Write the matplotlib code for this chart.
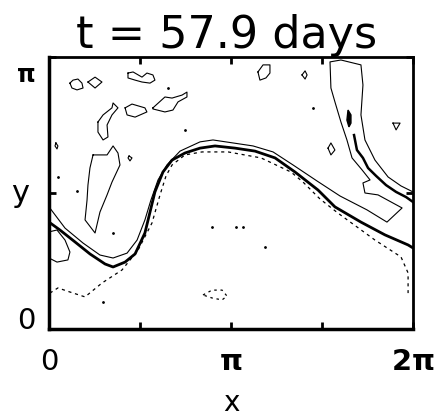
import numpy as np
import matplotlib
matplotlib.use("Agg")
import matplotlib.pyplot as plt
import matplotlib.transforms as mtransforms

PI = np.pi

# ---- data (x and y in units of pi) ----
title_text = "t = 57.9 days"
xtick_vals = [0, 0.5, 1.0, 1.5, 2.0]
xtick_labels = ["0", "", r"$\mathbf{\pi}$", "", r"$\mathbf{2\pi}$"]
ytick_vals = [0, 0.5, 1.0]
ytick_labels = ["0", "", r"$\mathbf{\pi}$"]

# main (thick) front contour
front_x = [0.0, 0.060, 0.143, 0.225, 0.308, 0.352, 0.418, 0.473, 0.527, 0.555, 0.582, 0.626,
           0.676, 0.747, 0.830, 0.912, 1.022, 1.132, 1.242, 1.352, 1.478, 1.571, 1.714, 1.846,
           1.973, 2.0]
front_y = [0.393, 0.364, 0.320, 0.276, 0.239, 0.228, 0.246, 0.276, 0.353, 0.430, 0.504, 0.577,
           0.621, 0.647, 0.665, 0.673, 0.665, 0.654, 0.629, 0.577, 0.511, 0.449, 0.393, 0.346,
           0.309, 0.298]

# thin contour north of the front, joining the eastern filament
upper_x = [0.0, 0.088, 0.187, 0.280, 0.352, 0.429, 0.484, 0.527, 0.560, 0.599, 0.648, 0.720,
           0.830, 0.901, 1.011, 1.121, 1.231, 1.341, 1.473, 1.599, 1.747, 1.857, 1.940, 1.808,
           1.736, 1.725, 1.764, 1.720, 1.665, 1.637, 1.604, 1.571, 1.549, 1.544, 1.604, 1.714,
           1.725, 1.714, 1.736, 1.791, 1.863, 1.934, 2.0]
upper_y = [0.449, 0.371, 0.316, 0.272, 0.261, 0.279, 0.327, 0.401, 0.474, 0.548, 0.603, 0.654,
           0.688, 0.695, 0.684, 0.673, 0.651, 0.603, 0.544, 0.489, 0.438, 0.393, 0.445, 0.493,
           0.500, 0.537, 0.548, 0.585, 0.629, 0.695, 0.761, 0.835, 0.886, 0.982, 0.989, 0.971,
           0.897, 0.787, 0.695, 0.621, 0.559, 0.526, 0.504]

# dashed contour south of the front
lower_x = [0.005, 0.049, 0.115, 0.198, 0.291, 0.401, 0.489, 0.566, 0.610, 0.643, 0.676, 0.747,
           0.841, 0.984, 1.165, 1.330, 1.396, 1.489, 1.588, 1.791, 1.934, 1.973, 1.973]
lower_y = [0.132, 0.151, 0.136, 0.118, 0.169, 0.217, 0.290, 0.390, 0.493, 0.563, 0.603, 0.640,
           0.651, 0.651, 0.629, 0.577, 0.540, 0.478, 0.426, 0.327, 0.265, 0.206, 0.132]

# thick inner line in the eastern filament
east_x = [1.676, 1.692, 1.725, 1.753, 1.797, 1.852, 1.907, 1.962, 2.0]
east_y = [0.713, 0.658, 0.629, 0.592, 0.563, 0.529, 0.504, 0.485, 0.467]

# small closed solid contours (x list, y list)
eddies = [
    ([0.115, 0.132, 0.159, 0.181, 0.187, 0.154, 0.126], [0.904, 0.915, 0.919, 0.904, 0.886, 0.879, 0.886]),
    ([0.214, 0.253, 0.291, 0.253], [0.908, 0.926, 0.908, 0.886]),
    ([0.434, 0.462, 0.511, 0.538, 0.571, 0.582, 0.555, 0.511, 0.473, 0.434],
     [0.941, 0.945, 0.926, 0.941, 0.934, 0.915, 0.904, 0.908, 0.915, 0.923]),
    ([0.571, 0.637, 0.676, 0.731, 0.758, 0.758, 0.709, 0.681, 0.637, 0.571],
     [0.813, 0.853, 0.849, 0.860, 0.871, 0.853, 0.835, 0.805, 0.798, 0.809]),
    ([0.418, 0.456, 0.527, 0.538, 0.473, 0.429], [0.813, 0.827, 0.813, 0.798, 0.779, 0.787]),
    ([0.269, 0.297, 0.346, 0.352, 0.379, 0.346, 0.319, 0.324, 0.297, 0.269],
     [0.761, 0.787, 0.813, 0.831, 0.813, 0.787, 0.750, 0.706, 0.695, 0.724]),
    ([0.242, 0.319, 0.352, 0.379, 0.390, 0.346, 0.319, 0.280, 0.253, 0.198, 0.209, 0.214, 0.225],
     [0.640, 0.640, 0.673, 0.647, 0.603, 0.540, 0.493, 0.430, 0.353, 0.401, 0.474, 0.529, 0.592]),
    ([1.148, 1.176, 1.214, 1.214, 1.192, 1.159], [0.945, 0.971, 0.971, 0.941, 0.923, 0.915]),
    ([1.390, 1.407, 1.418, 1.407], [0.934, 0.949, 0.934, 0.919]),
    ([1.890, 1.929, 1.907], [0.757, 0.757, 0.732]),
    ([1.533, 1.549, 1.571, 1.549], [0.665, 0.684, 0.658, 0.640]),
    ([0.038, 0.049, 0.044, 0.033], [0.684, 0.673, 0.662, 0.673]),
    ([0.440, 0.456, 0.445, 0.434], [0.636, 0.629, 0.618, 0.629]),
    ([0.0, 0.044, 0.088, 0.115, 0.104, 0.044, 0.0], [0.357, 0.364, 0.327, 0.283, 0.254, 0.246, 0.261]),
]
# tight (dark) eddy in the eastern filament
dark_x = [1.643, 1.659, 1.659, 1.648, 1.637]
dark_y = [0.805, 0.787, 0.757, 0.743, 0.768]

# small dashed closed contour
deddy_x = [0.846, 0.896, 0.951, 0.978, 0.951, 0.896]
deddy_y = [0.125, 0.143, 0.143, 0.121, 0.107, 0.114]

# tiny specks
speck_x = [0.654, 0.747, 0.049, 0.154, 1.451, 0.297, 0.896, 1.027, 1.066, 1.187, 0.352]
speck_y = [0.886, 0.732, 0.559, 0.507, 0.813, 0.099, 0.375, 0.375, 0.375, 0.301, 0.353]

# ---- figure ----
fig = plt.figure(figsize=(4.34, 4.19), dpi=100)
ax = fig.add_axes([49 / 434, 1 - 329 / 419, 364 / 434, 272 / 419])

def P(v):
    return np.asarray(v) * PI

ax.plot(P(upper_x), P(upper_y), color="black", lw=0.8)
ax.plot(P(front_x), P(front_y), color="black", lw=2.0)
ax.plot(P(lower_x), P(lower_y), color="black", lw=0.9, linestyle=(0, (2.5, 3)))
ax.plot(P(east_x), P(east_y), color="black", lw=1.8)

for ex, ey in eddies:
    ax.plot(P(ex + ex[:1]), P(ey + ey[:1]), color="black", lw=0.8)
ax.fill(P(dark_x), P(dark_y), color="black", lw=1.0)
ax.plot(P(deddy_x + deddy_x[:1]), P(deddy_y + deddy_y[:1]), color="black", lw=0.9,
        linestyle=(0, (2, 3)))
ax.plot(P(speck_x), P(speck_y), linestyle="none", marker="o", ms=1.0, color="black")

ax.set_xlim(0, 2 * PI)
ax.set_ylim(0, PI)

ax.set_xticks(P(xtick_vals))
ax.set_xticklabels(xtick_labels)
ax.set_yticks(P(ytick_vals))
ax.set_yticklabels(ytick_labels)
ax.tick_params(axis="both", direction="in", length=5, width=2, top=True, right=True,
               labelsize=21)
ax.tick_params(axis="x", pad=14)
ax.tick_params(axis="y", pad=10)

# nudge / size y labels like the original
ylabs = ax.get_yticklabels()
for lab, dy in zip(ylabs, [11, 0, -15]):
    off = mtransforms.ScaledTranslation(0, dy / 100.0, fig.dpi_scale_trans)
    lab.set_transform(lab.get_transform() + off)
ylabs[2].set_fontsize(17)

for s in ax.spines.values():
    s.set_linewidth(2.0)
ax.spines["left"].set_linewidth(2.5)
ax.spines["bottom"].set_linewidth(2.5)

ax.set_xlabel("x", fontsize=20, va="baseline")
ax.xaxis.set_label_coords(0.5, -0.30)
ax.set_ylabel("y", fontsize=22, rotation=0, ha="center", va="center")
ax.yaxis.set_label_coords(-0.08, 0.5)

fig.text(0.523, 0.916, title_text, fontsize=32, ha="center", va="center")

fig.savefig("out.png", dpi=100)
